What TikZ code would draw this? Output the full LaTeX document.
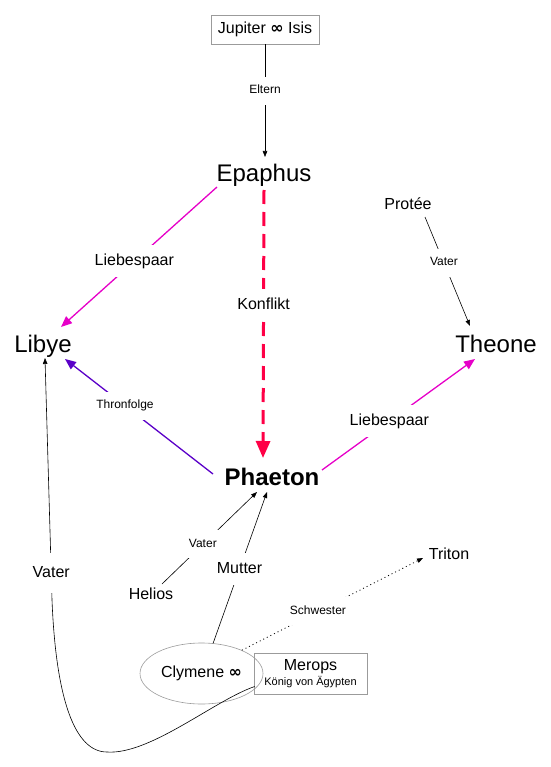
\documentclass[tikz,border=0pt]{standalone}
\usepackage{fontspec}
\setmainfont{Liberation Sans}
\newfontfamily\infsym{DejaVu Sans}
\newcommand{\infmark}{{\infsym\bfseries ∞}}
\usetikzlibrary{arrows.meta,shapes.geometric}
\definecolor{mag}{RGB}{230,0,200}
\definecolor{konf}{RGB}{255,0,70}
\definecolor{purp}{RGB}{90,0,200}
\definecolor{boxgray}{RGB}{155,155,155}
\begin{document}
\begin{tikzpicture}[x=1pt,y=-1pt,
  big/.style={font=\fontsize{24}{28}\selectfont, inner sep=0pt, anchor=base},
  mid/.style={font=\fontsize{16}{19}\selectfont, inner sep=0pt, anchor=base},
  frame/.style={draw=boxgray, line width=0.6pt, inner sep=0pt},
  lblbig/.style={font=\fontsize{16}{19}\selectfont, fill=white, text height=12pt, text depth=4pt, inner xsep=3pt, inner ysep=8pt},
  lblsmall/.style={font=\fontsize{12}{14}\selectfont, fill=white, text height=9pt, text depth=3pt, inner xsep=3pt, inner ysep=8pt},
  thinarrow/.style={draw=black, line width=0.6pt, -{Triangle[length=6pt,width=4.5pt]}},
  magline/.style={draw=mag, line width=1.3pt, -{Triangle[length=11pt,width=9pt]}},
  purpline/.style={draw=purp, line width=1.3pt, -{Triangle[length=11pt,width=9pt]}},
  konfline/.style={draw=konf, line width=3pt, dash pattern=on 14pt off 8pt, -{Triangle[length=17pt,width=14pt]}},
  dotline/.style={draw=black, line width=0.8pt, dash pattern=on 1pt off 3pt, -{Triangle[length=6pt,width=4.5pt]}}
]
\useasboundingbox (0,0) rectangle (550,767);

% nodes
\node[frame, minimum width=108pt, minimum height=29pt, font=\fontsize{16}{19}\selectfont] (jup) at (265,29.5) {Jupiter \infmark{} Isis};
\node[big] (epa) at (264,182) {Epaphus};
\node[big] (lib) at (43,352) {Libye};
\node[big] (the) at (496,352) {Theone};
\node[big, font=\fontsize{24}{28}\selectfont\bfseries] (pha) at (272,485) {Phaeton};
\node[mid] (pro) at (408,210) {Protée};
\node[mid] (hel) at (151,599) {Helios};
\node[mid] (tri) at (449,559) {Triton};
\node[ellipse, frame, minimum width=123pt, minimum height=61pt, font=\fontsize{16}{19}\selectfont] (cly) at (201.5,673.5) {Clymene \infmark};
\node[frame, minimum width=113pt, minimum height=41pt, align=center] (mer) at (310.5,673.5)
  {\fontsize{16}{16}\selectfont Merops\\[1pt]\fontsize{11}{13}\selectfont König von Ägypten};

% connectors
\draw[thinarrow] (jup.south) -- node[lblsmall,pos=0.41] (l0) {Eltern} ([shift={(1,-25)}]epa.base);
\draw[magline] ([shift={(-47,5)}]epa.base) -- node[lblbig,pos=0.53] (l1) {Liebespaar} ([shift={(18,-25)}]lib.base);
\draw[konfline] ([shift={(0,8)}]epa.base) -- node[lblbig,pos=0.43] (l2) {Konflikt} ([shift={(-9,-27)}]pha.base);
\draw[purpline] ([shift={(-59,-11)}]pha.base) -- node[lblsmall,pos=0.595] (l3) {Thronfolge} ([shift={(22,7)}]lib.base);
\draw[magline] ([shift={(50,-15)}]pha.base) -- node[lblbig,pos=0.44] (l4) {Liebespaar} ([shift={(-21,7)}]the.base);
\draw[thinarrow] ([shift={(17,7)}]pro.base) -- node[lblsmall,pos=0.42] (l5) {Vater} ([shift={(-26,-26)}]the.base);
\draw[thinarrow] ([shift={(11,-15)}]hel.base) -- node[lblsmall,pos=0.43] (l6) {Vater} ([shift={(-15,7)}]pha.base);
\draw[thinarrow] (cly.69) -- node[lblbig,pos=0.49] (l7) {Mutter} ([shift={(-5,7)}]pha.base);
\draw[dotline] (cly.30) -- node[lblsmall,pos=0.42] (l8) {Schwester} ([shift={(-26,-1)}]tri.base);
\draw[thinarrow] ([shift={(1,13)}]mer.west) .. controls (215,700) and (150,755) .. (107,752)
  .. controls (75,752) and (56,700) .. (52,600)
  -- node[lblbig,pos=0.11,inner ysep=12pt] (l9) {Vater} ([shift={(2,6)}]lib.base);
\end{tikzpicture}
\end{document}
